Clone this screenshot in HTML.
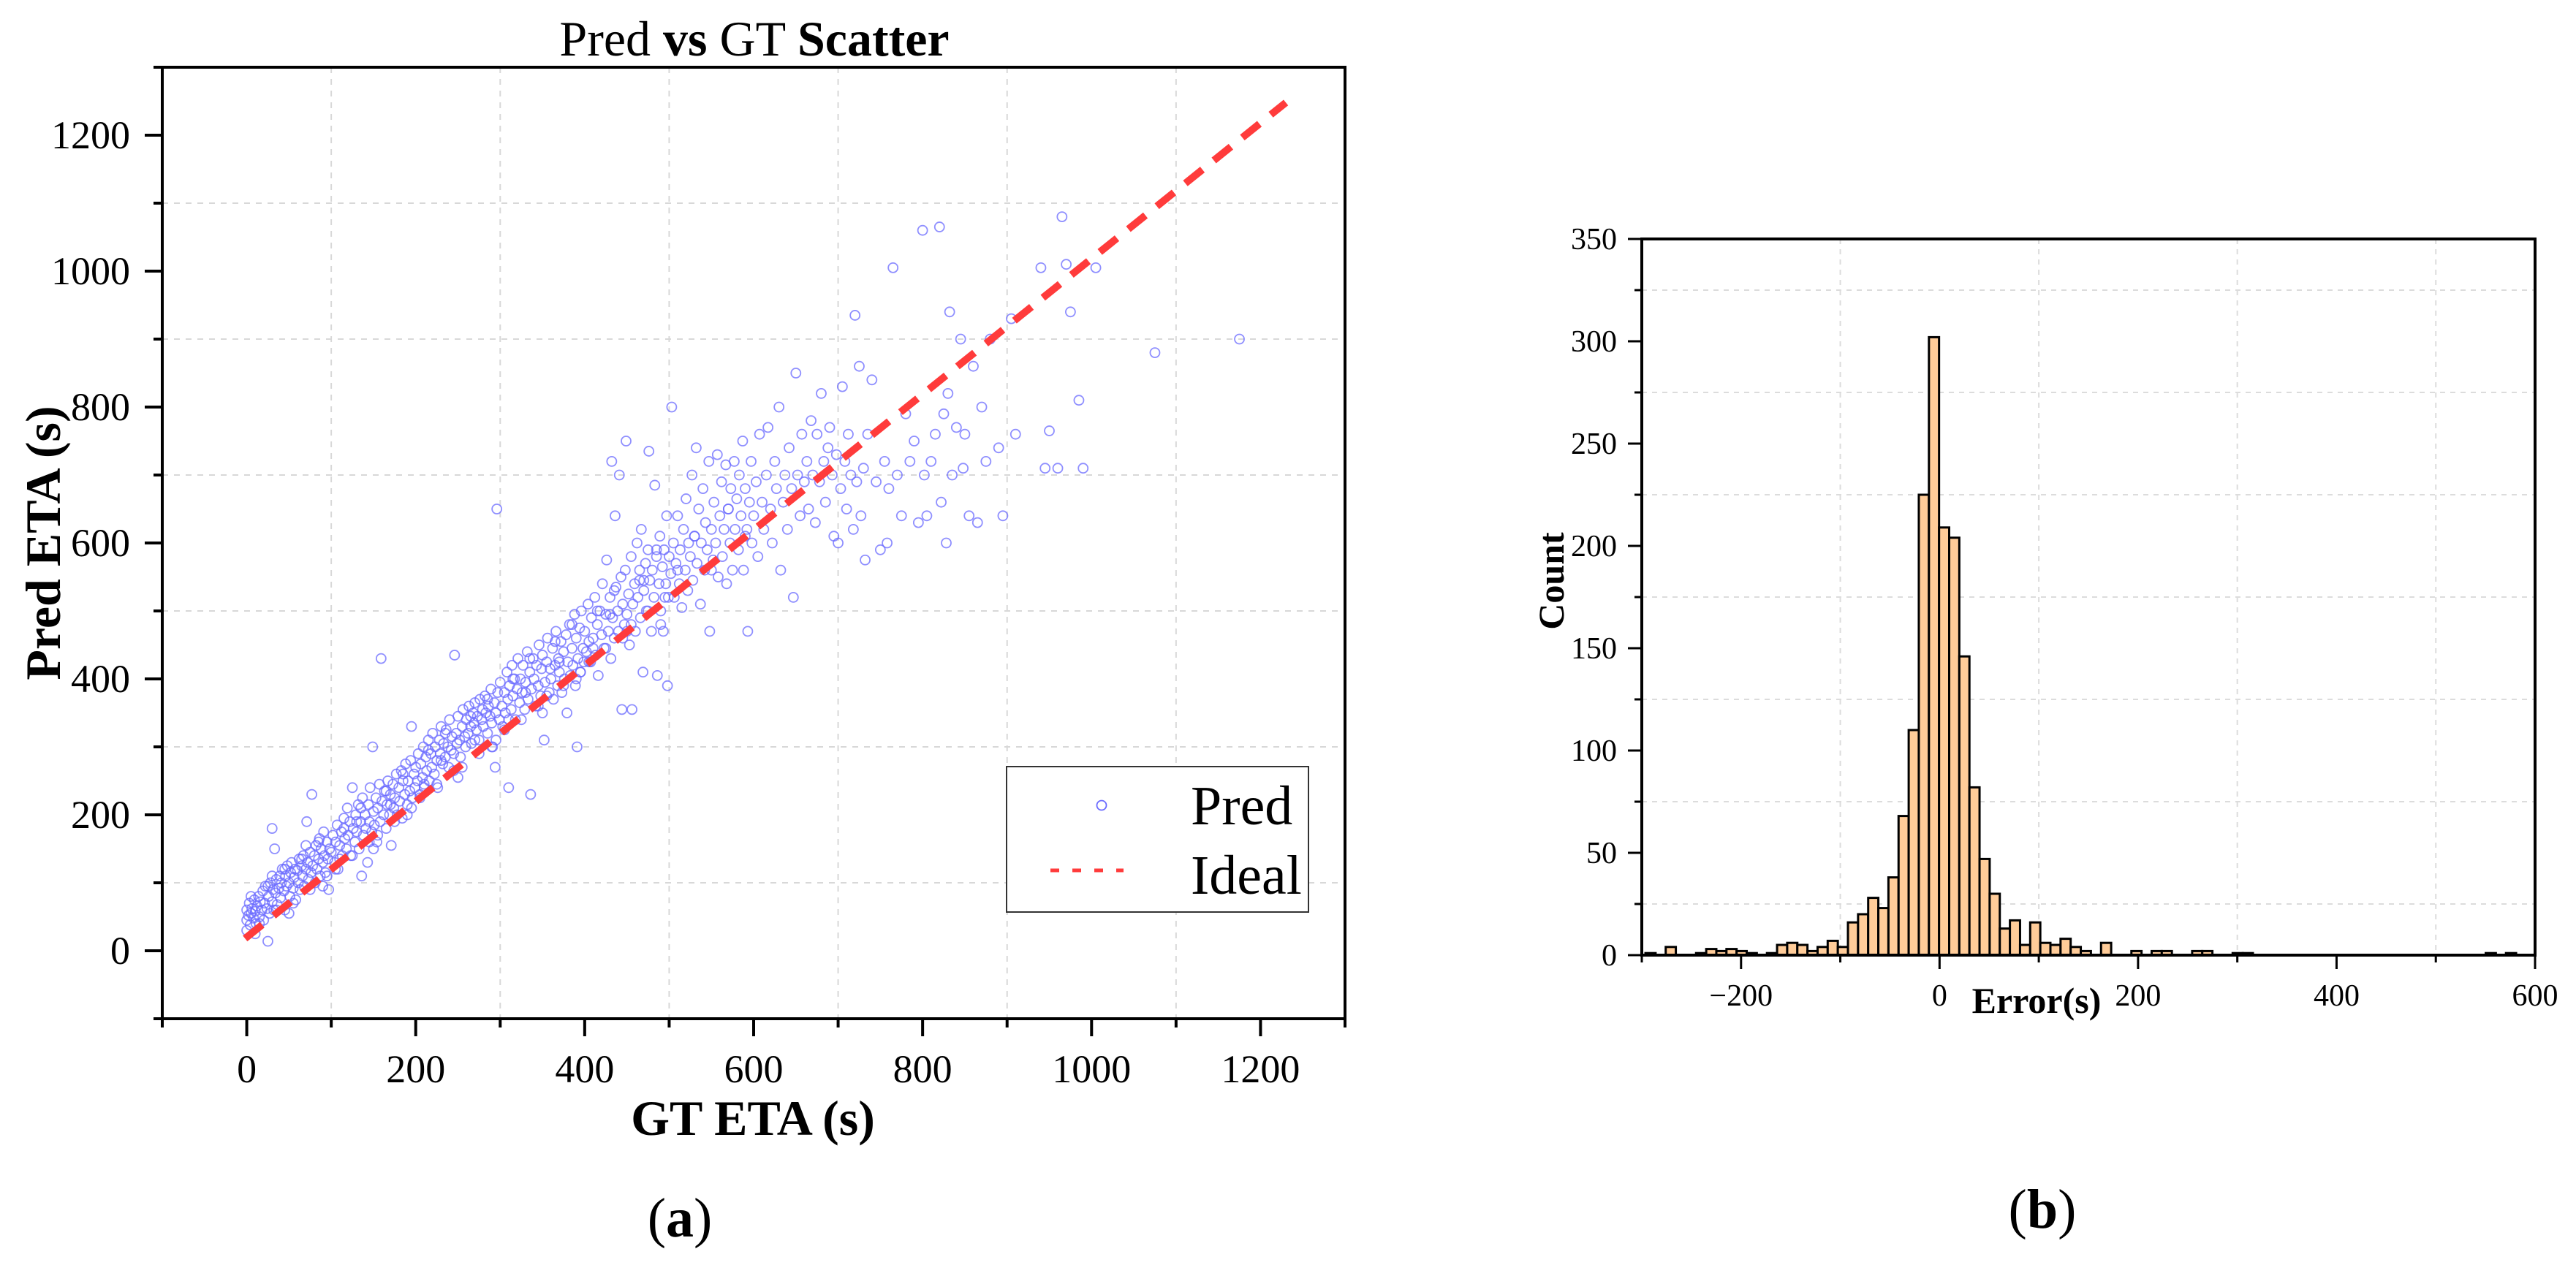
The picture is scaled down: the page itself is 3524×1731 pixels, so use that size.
<!DOCTYPE html>
<html><head><meta charset="utf-8"><style>
html,body{margin:0;padding:0;background:#fff;}
svg{display:block;font-family:"Liberation Serif","Times New Roman",serif;}
</style></head><body>
<svg id="fig" width="3524" height="1731" viewBox="0 0 3524 1731" xmlns="http://www.w3.org/2000/svg">
<rect width="3524" height="1731" fill="#fff"/>
<g id="chartA"></g>
<g id="chartB"></g>
<text x="1032" y="76" font-size="68" text-anchor="middle">Pred <tspan font-weight="bold">vs</tspan> GT <tspan font-weight="bold">Scatter</tspan></text>
<text x="1030" y="1553" font-size="68" font-weight="bold" text-anchor="middle">GT ETA (s)</text>
<text transform="translate(82,743) rotate(-90)" font-size="68" font-weight="bold" text-anchor="middle">Pred ETA (s)</text>
<text x="930" y="1692" font-size="76" text-anchor="middle">(<tspan font-weight="bold">a</tspan>)</text>
<text x="2786" y="1386" font-size="50" font-weight="bold" text-anchor="middle">Error(s)</text>
<text transform="translate(2139,795) rotate(-90)" font-size="50" font-weight="bold" text-anchor="middle">Count</text>
<text x="2794" y="1680" font-size="76" text-anchor="middle">(<tspan font-weight="bold">b</tspan>)</text>
</svg>
<script>
// ---------- Scatter data ----------
const gtVals = [0,0,0,2,3,4,5,6,8,9,10,11,12,14,15,16,18,19,20,21,22,24,25,26,27,28,30,30,31,32,33,34,35,36,38,39,40,41,42,44,45,46,47,48,50,51,52,53,55,56,57,58,60,61,62,63,65,66,67,68,70,71,72,73,75,76,77,78,80,81,82,83,85,86,87,88,90,91,92,93,95,96,97,98,100,
102,104,105,107,108,110,112,113,115,116,118,119,120,122,123,125,126,128,129,130,132,133,135,136,137,138,140,141,143,144,145,146,148,149,150,151,153,154,155,157,158,159,160,162,163,165,166,167,169,170,171,173,174,175,177,178,180,181,183,184,185,187,188,190,191,193,194,195,196,198,199,
200,202,203,205,206,208,209,210,212,213,215,216,218,219,220,222,223,225,226,228,229,230,232,233,235,236,238,239,240,242,243,245,246,248,249,250,252,253,255,256,258,259,260,262,263,265,266,268,269,270,272,273,275,276,278,279,280,282,283,285,286,288,289,290,291,293,294,295,296,297,299,
300,302,303,305,306,308,309,310,311,313,314,315,317,318,320,321,323,324,326,327,329,330,332,333,335,336,337,339,340,342,343,345,346,348,349,350,352,353,355,356,358,359,360,362,363,365,366,368,369,370,372,373,375,376,378,379,380,382,383,385,386,388,389,390,391,392,394,395,396,398,399,
400,402,404,405,407,408,410,412,413,415,416,418,420,421,423,425,426,428,430,431,432,433,435,436,437,439,440,441,443,444,445,447,448,449,450,452,453,455,456,457,459,460,462,463,465,466,467,469,470,472,473,475,476,477,479,480,482,483,485,486,488,489,490,492,493,494,496,497,498,499,
500,502,503,505,506,508,510,512,513,515,517,519,520,522,523,525,527,528,530,532,533,535,537,538,540,542,543,545,547,548,550,552,553,555,557,558,560,562,563,565,567,568,570,572,573,575,577,578,580,582,583,585,587,588,590,592,593,595,597,598,
600,603,605,607,610,612,615,617,620,622,625,627,630,632,635,637,640,642,645,647,650,652,655,657,660,663,665,668,670,673,675,678,680,683,685,688,690,693,695,698,
700,703,705,708,710,712,715,718,720,722,725,727,730,732,735,740,745,750,755,758,760,765,770,775,780,785,790,795,800,802,805,810,815,820,822,825,828,830,832,835,840,845,848,850,855,860,865,870,875,880,890,895,905,910,940,945,950,960,965,970,975,985,990,1005,1075,1175,
5,15,25,35,45,55,65,75,85,95,105,115,125,135,145,155,165,175,185,195,205,215,225,235,245,255,265,275,285,295,305,315,325,335,345,355,365,375,385,395,405,415,425,435,445,455,465,475,485,495,
10,30,50,70,90,110,130,150,170,190,210,230,250,270,290,310,330,350,370,390,410,430,450,470,490,510,530,550,570,590];
const predVals = [45,60,30,52,70,38,55,62,48,75,58,40,66,80,50,72,60,88,45,70,95,62,14,80,55,100,72,180,90,60,150,85,105,68,92,110,78,100,120,88,60,110,95,125,100,80,115,130,92,108,120,75,118,100,135,90,125,110,140,95,120,190,130,105,145,115,230,125,140,100,155,120,135,165,110,150,130,175,140,115,160,135,90,150,145,
170,130,160,185,120,155,175,140,195,165,150,210,170,190,140,240,180,160,200,175,215,150,190,110,225,170,200,180,130,215,190,240,175,300,205,185,225,160,210,245,190,430,220,200,235,180,215,250,200,230,155,245,210,225,260,200,240,220,265,195,250,230,275,215,250,235,280,330,225,260,240,
270,250,290,230,275,255,300,245,285,265,310,250,290,270,320,260,300,280,240,310,290,330,275,305,285,325,300,270,340,295,315,290,435,320,305,345,310,285,330,355,315,300,340,320,360,330,305,350,335,365,325,345,310,370,340,355,330,375,350,320,360,345,385,335,300,365,270,350,650,380,340,
395,360,330,380,350,410,370,240,390,355,420,375,400,340,385,430,365,400,380,420,355,395,440,370,410,230,385,430,400,360,420,390,450,375,415,435,310,395,425,460,380,415,400,445,370,420,470,390,430,410,455,380,440,400,465,350,425,480,405,445,420,495,390,460,300,430,475,410,500,445,425,
470,440,510,455,425,490,460,520,435,480,405,500,465,540,445,495,575,470,520,430,720,490,460,640,535,500,470,700,550,355,510,480,560,750,495,525,450,580,355,510,540,470,600,520,545,490,620,410,530,570,500,590,735,545,470,560,520,685,580,405,540,610,500,565,470,590,540,640,390,520,
580,555,800,600,520,570,640,540,590,505,620,560,665,530,600,580,700,545,610,740,570,650,510,600,680,560,630,590,720,470,620,575,660,600,730,550,640,690,580,620,715,540,650,600,680,560,720,620,665,590,700,640,750,560,680,620,470,660,720,600,
640,690,580,760,660,620,700,770,650,600,720,680,800,560,660,700,620,740,680,520,850,700,640,760,690,720,650,780,700,630,760,690,820,720,660,740,770,700,610,730,
600,680,830,720,650,760,700,620,935,690,860,640,710,575,760,840,690,590,720,600,680,1005,700,640,790,720,750,630,1060,700,640,720,760,1065,660,790,600,820,940,700,770,900,710,760,640,860,630,800,720,900,740,640,930,760,1005,710,765,710,1080,1010,940,810,710,1005,880,900,
80,40,95,60,120,70,135,90,160,110,120,180,140,210,160,170,235,190,260,210,225,295,245,320,265,270,345,290,370,310,325,400,340,430,360,375,455,390,480,410,425,500,445,530,460,480,560,500,590,520,
25,110,55,155,95,135,190,150,215,200,240,280,255,310,300,340,380,350,425,400,445,495,470,545,480,560,610,560,650,610];
const idealX = [-2, 1230];
const idealY = [18, 1248];
const axATicksX = [0,200,400,600,800,1000,1200];
const axATicksY = [0,200,400,600,800,1000,1200];

// ---------- Histogram data ----------
const histStart = -296.3;
const histBinWidth = 10.2;
const histCounts = [1,0,4,0,0,1,3,2,3,2,1,0,1,5,6,5,2,4,7,4,16,20,28,23,38,68,110,225,302,209,204,146,82,47,30,13,17,5,16,6,5,8,4,2,0,6,0,0,2,0,2,2,0,0,2,2,0,0,1,1,0,0,0,0,0,0,0,0,0,0,0,0,0,0,0,0,0,0,0,0,0,0,0,1,0,1];
const axBTicksX = [-200,0,200,400,600];
const axBTicksXLabels = ["\u2212200","0","200","400","600"];
const axBTicksY = [0,50,100,150,200,250,300,350];

const NS = "http://www.w3.org/2000/svg";
function mk(parent, tag, attrs){ const e=document.createElementNS(NS,tag); for(const k in attrs) e.setAttribute(k,attrs[k]); parent.appendChild(e); return e; }

// ---------- Chart A ----------
const A = {x0:222, x1:1840, y0:1394, y1:92, xmin:-100, xmax:1300, ymin:-100, ymax:1300};
const ax = v => A.x0 + (v-A.xmin)/(A.xmax-A.xmin)*(A.x1-A.x0);
const ay = v => A.y0 - (v-A.ymin)/(A.ymax-A.ymin)*(A.y0-A.y1);
const gA = document.getElementById('chartA');
for(let v=100; v<=1100; v+=200){
  const gl = mk(gA,'line',{x1:ax(v),x2:ax(v),y1:A.y1,y2:A.y0,stroke:'#d8d8d8','stroke-width':2,'stroke-dasharray':'8 8'});
  
  
  const gl2 = mk(gA,'line',{x1:A.x0,x2:A.x1,y1:ay(v),y2:ay(v),stroke:'#d8d8d8','stroke-width':2,'stroke-dasharray':'8 8'});
  
  
}
for(let i=0;i<gtVals.length;i++){
  const c = mk(gA,'circle',{cx:ax(gtVals[i]),cy:ay(predVals[i]),r:6.5,fill:'none',stroke:'#6a6aff','stroke-opacity':0.75,'stroke-width':1.8});
  
  
}
const il = mk(gA,'line',{x1:ax(idealX[0]),y1:ay(idealY[0]),x2:ax(idealX[1]),y2:ay(idealY[1]),stroke:'#ff3b3b','stroke-width':10,'stroke-dasharray':'30 20'});


const fA = mk(gA,'rect',{x:A.x0,y:A.y1,width:A.x1-A.x0,height:A.y0-A.y1,fill:'none',stroke:'#000','stroke-width':4});


for(let v=-100; v<=1300; v+=100){
  const major = axATicksX.includes(v);
  const t = mk(gA,'line',{x1:ax(v),x2:ax(v),y1:A.y0,y2:A.y0+(major?24:12),stroke:'#000','stroke-width':4});
  
  
  const majorY = axATicksY.includes(v);
  const t2 = mk(gA,'line',{x1:A.x0,x2:A.x0-(majorY?24:12),y1:ay(v),y2:ay(v),stroke:'#000','stroke-width':4});
  
  
}
axATicksX.forEach(v=>{
  const t = mk(gA,'text',{x:ax(v),y:1481,'font-size':54,'text-anchor':'middle'}); t.textContent=v;
  
  
});
axATicksY.forEach(v=>{
  const t = mk(gA,'text',{x:178,y:ay(v)+18,'font-size':54,'text-anchor':'end'}); t.textContent=v;
  
  
});
// legend
const lg = mk(gA,'g',{});


mk(lg,'rect',{x:1377,y:1049,width:413,height:199,fill:'#fff',stroke:'#333','stroke-width':2});
const lm = mk(lg,'circle',{cx:1507,cy:1102,r:6.5,fill:'none',stroke:'#6a6aff','stroke-width':1.8});


const ll = mk(lg,'line',{x1:1437,x2:1537,y1:1191,y2:1191,stroke:'#ff3b3b','stroke-width':5,'stroke-dasharray':'12 18'});


const lt1 = mk(lg,'text',{x:1629,y:1128,'font-size':76}); lt1.textContent='Pred';


const lt2 = mk(lg,'text',{x:1629,y:1223,'font-size':76}); lt2.textContent='Ideal';



// ---------- Chart B ----------
const B = {x0:2246, x1:3468, y0:1307, y1:327, xmin:-300, xmax:600, ymin:0, ymax:350};
const bx = v => B.x0 + (v-B.xmin)/(B.xmax-B.xmin)*(B.x1-B.x0);
const by = v => B.y0 - (v-B.ymin)/(B.ymax-B.ymin)*(B.y0-B.y1);
const gB = document.getElementById('chartB');
[-100,100,300,500].forEach(v=>{
  const gl = mk(gB,'line',{x1:bx(v),x2:bx(v),y1:B.y1,y2:B.y0,stroke:'#dcdcdc','stroke-width':2,'stroke-dasharray':'7 7'});
  
  
});
for(let v=25; v<350; v+=50){
  const gl = mk(gB,'line',{x1:B.x0,x2:B.x1,y1:by(v),y2:by(v),stroke:'#dcdcdc','stroke-width':2,'stroke-dasharray':'7 7'});
  
  
}
histCounts.forEach((c,i)=>{
  if(c<=0) return;
  const l = histStart + i*histBinWidth, r = l + histBinWidth;
  const b = mk(gB,'rect',{x:bx(l),y:by(c),width:bx(r)-bx(l),height:by(0)-by(c),fill:'#ffcc99',stroke:'#000','stroke-width':3});
  
  
});
const fB = mk(gB,'rect',{x:B.x0,y:B.y1,width:B.x1-B.x0,height:B.y0-B.y1,fill:'none',stroke:'#000','stroke-width':4});


for(let v=-300; v<=600; v+=100){
  const major = axBTicksX.includes(v);
  const t = mk(gB,'line',{x1:bx(v),x2:bx(v),y1:B.y0,y2:B.y0+(major?19:10),stroke:'#000','stroke-width':3});
  
  
}
for(let v=0; v<=350; v+=25){
  const major = axBTicksY.includes(v);
  const t = mk(gB,'line',{x1:B.x0,x2:B.x0-(major?19:10),y1:by(v),y2:by(v),stroke:'#000','stroke-width':3});
  
  
}
axBTicksX.forEach((v,i)=>{
  const t = mk(gB,'text',{x:bx(v),y:1376,'font-size':42,'text-anchor':'middle'}); t.textContent=axBTicksXLabels[i];
  
  
});
axBTicksY.forEach(v=>{
  const t = mk(gB,'text',{x:2212,y:by(v)+14,'font-size':42,'text-anchor':'end'}); t.textContent=v;
  
  
});
</script>
</body></html>
